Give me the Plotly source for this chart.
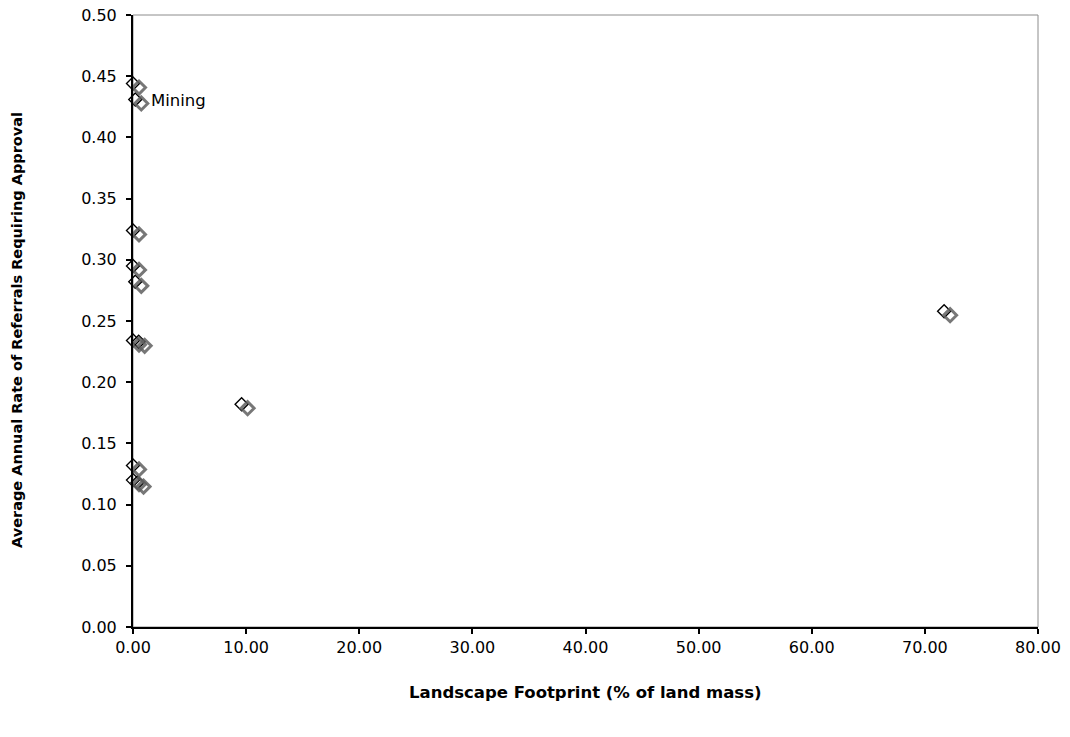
import plotly.graph_objects as go

# Data
footprint = [0.0, 0.2, 0.0, 0.0, 0.2, 0.0, 0.5, 9.6, 71.7, 0.0, 0.0, 0.4]
rate = [0.444, 0.431, 0.324, 0.295, 0.282, 0.234, 0.233, 0.182, 0.258, 0.132, 0.120, 0.118]
labels = ["", "Mining", "", "", "", "", "", "", "", "", "", ""]

x_range = [0, 80]
y_range = [0, 0.5]
x_ticks = [0, 10, 20, 30, 40, 50, 60, 70, 80]
y_ticks = [0, 0.05, 0.10, 0.15, 0.20, 0.25, 0.30, 0.35, 0.40, 0.45, 0.50]

# body margin is removed by the post script, so the figure fills the window
W, H = 1070, 737
L, R, T, B = 133, 32, 15, 110
plot_w = W - L - R
plot_h = H - T - B
# shadow offset in pixels (right, down)
sdx, sdy = 6, 4
ux = sdx * (x_range[1] - x_range[0]) / plot_w
uy = sdy * (y_range[1] - y_range[0]) / plot_h

font = "DejaVu Sans, Verdana, sans-serif"

fig = go.Figure()

# shadow trace on shifted overlay axes
fig.add_trace(go.Scatter(
    x=footprint, y=rate, mode="markers", xaxis="x2", yaxis="y2",
    marker=dict(symbol="diamond-open", size=10, color="rgba(95,95,95,0.85)",
                line=dict(width=3, color="rgba(95,95,95,0.85)")),
    hoverinfo="skip", showlegend=False, cliponaxis=False,
))

fig.add_trace(go.Scatter(
    x=footprint, y=rate, mode="markers",
    marker=dict(symbol="diamond-open", size=10, color="#000",
                line=dict(width=1.4, color="#000")),
    showlegend=False, cliponaxis=False,
))

annotations = []
for xv, yv, lab in zip(footprint, rate, labels):
    if lab:
        annotations.append(dict(x=xv, y=yv, xref="x", yref="y", text=lab,
                                showarrow=False, xanchor="left", yanchor="middle",
                                xshift=14, yshift=-1,
                                font=dict(family=font, size=16.5, color="#000")))

axis_common = dict(showgrid=False, zeroline=False, ticks="outside", ticklen=5,
                   tickwidth=2, tickcolor="#000", showline=True, linecolor="#000",
                   linewidth=2, ticklabeloverflow="allow", automargin=False,
                   tickfont=dict(family=font, size=16, color="#000"))

annotations += [
    dict(text="<b>Landscape Footprint (% of land mass)</b>", xref="paper", yref="paper",
         x=0.5, y=-(692 - (H - B)) / plot_h, xanchor="center", yanchor="middle",
         showarrow=False, font=dict(family=font, size=16.5, color="#000")),
    dict(text="<b>Average Annual Rate of Referrals Requiring Approval</b>",
         xref="paper", yref="paper", x=-(L - 17) / plot_w, y=0.5 - 9 / plot_h,
         xanchor="center", yanchor="middle", textangle=-90,
         showarrow=False, font=dict(family=font, size=14.5, color="#000")),
]

fig.update_layout(
    width=W, height=H,
    margin=dict(l=L, r=R, t=T, b=B, autoexpand=False),
    paper_bgcolor="white", plot_bgcolor="white",
    xaxis=dict(range=x_range, tickvals=x_ticks, tickformat=".2f", **axis_common),
    yaxis=dict(range=y_range, tickvals=y_ticks, tickformat=".2f",
               ticklabelstandoff=6, **axis_common),
    xaxis2=dict(range=[x_range[0] - ux, x_range[1] - ux], overlaying="x",
                visible=False, showgrid=False, zeroline=False, automargin=False),
    yaxis2=dict(range=[y_range[0] + uy, y_range[1] + uy], overlaying="y",
                visible=False, showgrid=False, zeroline=False, automargin=False),
    shapes=[dict(type="rect", xref="paper", yref="paper", x0=0, y0=0, x1=1, y1=1,
                 line=dict(color="#8c8c8c", width=1), layer="below")],
    annotations=annotations,
)

fig.write_html("out.html", config={"displayModeBar": False},
               post_script="document.body.style.margin='0';document.body.style.overflow='hidden';")
